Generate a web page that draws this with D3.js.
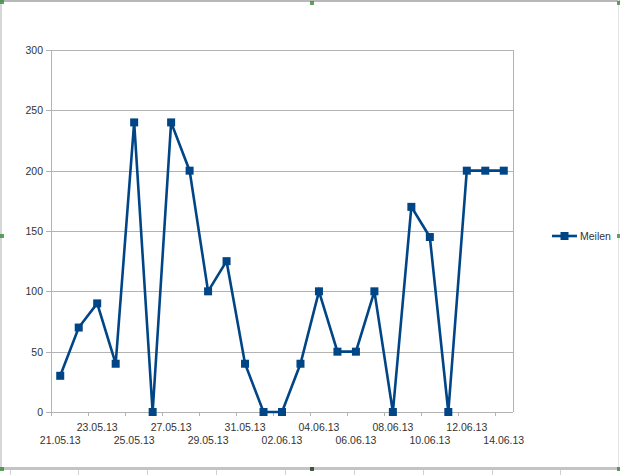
<!DOCTYPE html>
<html><head><meta charset="utf-8">
<script src="https://cdn.jsdelivr.net/npm/d3@7/dist/d3.min.js"></script>
<style>body{margin:0;background:#fff}svg{display:block}</style>
</head><body>
<svg id="c" width="620" height="475"></svg>
<script>
const categories = ["21.05.13","22.05.13","23.05.13","24.05.13","25.05.13","26.05.13","27.05.13","28.05.13","29.05.13","30.05.13","31.05.13","01.06.13","02.06.13","03.06.13","04.06.13","05.06.13","06.06.13","07.06.13","08.06.13","09.06.13","10.06.13","11.06.13","12.06.13","13.06.13","14.06.13"];
const meilen = [30,70,90,40,240,0,240,200,100,125,40,0,0,40,100,50,50,100,0,170,145,0,200,200,200];
const yTicks = [0,50,100,150,200,250,300];
const seriesName = "Meilen";

const svg = d3.select("#c");
const L = 51, R = 513, T = 50, B = 412;
const font = "'Liberation Sans', Arial, sans-serif";
const col = "#004586";

// frame (spreadsheet selection)
svg.append("line").attr("x1",0).attr("x2",620).attr("y1",1).attr("y2",1).attr("stroke","#b8b8b8").attr("stroke-width",2);
svg.append("line").attr("x1",1).attr("x2",1).attr("y1",0).attr("y2",469).attr("stroke","#c8c8c8").attr("stroke-width",1.5);
svg.append("line").attr("x1",618.5).attr("x2",618.5).attr("y1",0).attr("y2",469).attr("stroke","#e4e4e4").attr("stroke-width",1);
svg.append("rect").attr("x",0).attr("y",467).attr("width",620).attr("height",3).attr("fill","#c4c4c4");
[10,78,147,216,285,354,423,492,560].forEach(x=>{
  svg.append("line").attr("x1",x+0.5).attr("x2",x+0.5).attr("y1",470).attr("y2",475).attr("stroke","#d0d0d0");
});
[[0,0],[310,1],[617,1],[0,234],[617,234],[0,467],[310,467],[617,467]].forEach(([x,y])=>{
  svg.append("rect").attr("x",x).attr("y",y).attr("width",4).attr("height",4).attr("fill",(x===310&&y>400)?"#1a3a1a":"#3a8a3a").attr("opacity",0.8);
});

const x = d3.scaleBand().domain(categories).range([L,R]).padding(0);
const y = d3.scaleLinear().domain([0,300]).range([B,T]);

// gridlines
const g = svg.append("g");
g.selectAll("line.grid").data(yTicks).join("line")
  .attr("x1",L-5).attr("x2",R).attr("y1",d=>Math.round(y(d))+0.5).attr("y2",d=>Math.round(y(d))+0.5)
  .attr("stroke","#b3b3b3").attr("stroke-width",1);
g.append("line").attr("x1",L+0.5).attr("x2",L+0.5).attr("y1",T).attr("y2",B).attr("stroke","#b3b3b3");
g.append("line").attr("x1",R+0.5).attr("x2",R+0.5).attr("y1",T).attr("y2",B).attr("stroke","#b3b3b3");

// y labels
g.selectAll("text.yl").data(yTicks).join("text")
  .attr("x",L-8).attr("y",d=>y(d)+4).attr("text-anchor","end")
  .attr("font-family",font).attr("font-size","10.5px").attr("fill","#333").text(d=>d);

// x ticks every 2 categories at boundaries
const tickIdx = d3.range(0,categories.length,2);
g.selectAll("line.xt").data(tickIdx).join("line")
  .attr("x1",i=>Math.round(x(categories[i]))+0.5).attr("x2",i=>Math.round(x(categories[i]))+0.5)
  .attr("y1",B).attr("y2",B+4).attr("stroke","#b3b3b3");

// x labels alternate rows
g.selectAll("text.xl").data(tickIdx).join("text")
  .attr("x",i=>x(categories[i])+x.bandwidth()/2)
  .attr("y",(i,k)=> k%2===0 ? 444 : 431)
  .attr("text-anchor","middle")
  .attr("font-family",font).attr("font-size","10.5px").attr("fill","#333")
  .text(i=>categories[i]);

// line
const line = d3.line().x((d,i)=>x(categories[i])+x.bandwidth()/2).y(d=>y(d));
svg.append("path").datum(meilen).attr("d",line).attr("fill","none")
  .attr("stroke",col).attr("stroke-width",2.6).attr("stroke-linejoin","miter");
const ms = 8;
svg.selectAll("rect.m").data(meilen).join("rect")
  .attr("x",(d,i)=>x(categories[i])+x.bandwidth()/2-ms/2)
  .attr("y",d=>y(d)-ms/2).attr("width",ms).attr("height",ms).attr("fill",col);

// legend
const ly = 236;
svg.append("line").attr("x1",552).attr("x2",577).attr("y1",ly).attr("y2",ly).attr("stroke",col).attr("stroke-width",2.6);
svg.append("rect").attr("x",564.5-ms/2).attr("y",ly-ms/2).attr("width",ms).attr("height",ms).attr("fill",col);
svg.append("text").attr("x",580).attr("y",ly+4).attr("font-family",font).attr("font-size","10.5px").attr("fill","#333").text(seriesName);
</script>
</body></html>
